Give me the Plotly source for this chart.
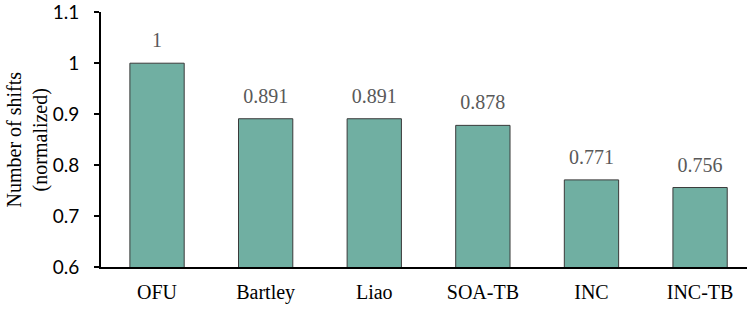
import plotly.graph_objects as go

categories = ["OFU", "Bartley", "Liao", "SOA-TB", "INC", "INC-TB"]
values = [1.0, 0.891, 0.891, 0.878, 0.771, 0.756]
labels = ["1", "0.891", "0.891", "0.878", "0.771", "0.756"]
y_ticks = [0.6, 0.7, 0.8, 0.9, 1.0, 1.1]
y_ticklabels = ["0.6", "0.7", "0.8", "0.9", "1", "1.1"]
y_title = "Number of shifts<br>(normalized)"

serif = "Liberation Serif"

fig = go.Figure()
fig.add_trace(go.Bar(
    x=categories, y=values,
    marker=dict(color="#70AFA2", line=dict(color="#3a3a3a", width=1)),
    hoverinfo="skip",
))
fig.add_trace(go.Scatter(
    x=categories, y=values, mode="markers+text",
    text=labels, textposition="top center",
    marker=dict(size=16, color="rgba(0,0,0,0)"),
    textfont=dict(family=serif, size=20, color="#595959"),
    cliponaxis=False, hoverinfo="skip",
))

fig.update_layout(
    width=747, height=310,
    margin=dict(l=101, r=0, t=12, b=43),
    paper_bgcolor="white", plot_bgcolor="white",
    bargap=0.5, showlegend=False,
    annotations=[dict(
        text=y_title, textangle=-90, xref="paper", yref="paper",
        x=-74 / 646, y=0.5, xanchor="center", yanchor="middle",
        showarrow=False, font=dict(family=serif, size=20, color="black"),
    )],
)
fig.update_xaxes(
    range=[-0.516, 5.432],
    showline=True, linecolor="black", linewidth=2,
    tickfont=dict(family=serif, size=20, color="black"),
    ticks="outside", ticklen=6, tickcolor="rgba(0,0,0,0)", showgrid=False,
)
fig.update_yaxes(
    range=[0.6, 1.1005], tickvals=y_ticks, ticktext=y_ticklabels,
    showline=True, linecolor="black", linewidth=2,
    tickfont=dict(family="Lato", size=19, color="black"),
    ticks="outside", ticklen=5, tickwidth=1.5, tickcolor="black",
    ticklabelstandoff=11, ticklabeloverflow="allow",
    showgrid=False, zeroline=False,
)

fig.write_html("out.html", config={"displayModeBar": False})
with open("out.html", "r", encoding="utf-8") as f:
    html = f.read()
html = html.replace("<head>", "<head><style>html,body{margin:0;padding:0;overflow:hidden}</style>", 1)
with open("out.html", "w", encoding="utf-8") as f:
    f.write(html)
